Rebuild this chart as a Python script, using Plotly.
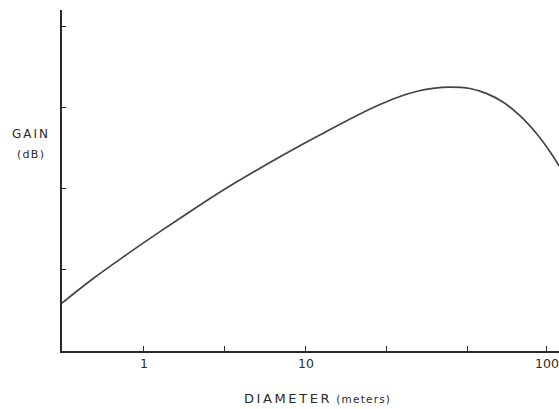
import plotly.graph_objects as go
import numpy as np

# Data (diameter in meters, gain in relative units)
diameter_m = [0.312, 0.484, 0.785, 1.256, 2.005, 3.076, 4.989, 7.96, 12.74, 20.65,
              28.64, 38.0, 50.1, 60.8, 77.4, 102.8, 130.9, 164.4, 209.4, 266.7,
              320.6, 365.0]
gain_rel = [0.59, 0.89, 1.19, 1.47, 1.74, 1.98, 2.23, 2.46, 2.68, 2.90,
            3.035, 3.135, 3.205, 3.235, 3.25, 3.233, 3.170, 3.066, 2.898, 2.672,
            2.456, 2.28]

x_tickvals = [1, 3.162, 10, 31.62, 100, 307.6]
x_ticktext = ["1", "", "10", "", "", "100"]
y_tickvals = [1, 2, 3, 4]

ink = "#2a2a2a"
font_family = "DejaVu Sans, Liberation Sans, sans-serif"

fig = go.Figure()
fig.add_trace(go.Scatter(
    x=diameter_m, y=gain_rel, mode="lines",
    line=dict(color="#444444", width=1.7, shape="spline", smoothing=1.1),
    hoverinfo="skip", showlegend=False,
))

fig.update_layout(
    width=559, height=409,
    margin=dict(l=62, r=0, t=10, b=58),
    paper_bgcolor="white", plot_bgcolor="white",
    font=dict(family=font_family, color=ink, size=12),
    xaxis=dict(
        type="log", range=[np.log10(0.312), np.log10(365)],
        showgrid=False, zeroline=False,
        showline=True, linecolor=ink, linewidth=1.5,
        ticks="inside", ticklen=5, tickwidth=1.2, tickcolor=ink,
        tickvals=x_tickvals, ticktext=x_ticktext,
        tickfont=dict(size=12.5, color=ink, family=font_family),
    ),
    yaxis=dict(
        range=[0, 4.2],
        showgrid=False, zeroline=False,
        showline=True, linecolor=ink, linewidth=1.5,
        ticks="inside", ticklen=4, tickwidth=1.2, tickcolor=ink,
        tickvals=y_tickvals, showticklabels=False,
    ),
    annotations=[
        dict(text="<span style='letter-spacing:2.6px'>DIAMETER</span> "
                  "<span style='font-size:10.5px;letter-spacing:1.2px'>(meters)</span>",
             xref="paper", yref="paper", x=0.515, y=-0.14,
             xanchor="center", yanchor="middle", showarrow=False,
             font=dict(size=13, color=ink, family=font_family)),
        dict(text="<span style='letter-spacing:2px'>GAIN</span>",
             xref="paper", yref="paper", x=-0.062, y=0.635,
             xanchor="center", yanchor="middle", showarrow=False,
             font=dict(size=12, color=ink, family=font_family)),
        dict(text="<span style='letter-spacing:1.3px'>(dB)</span>",
             xref="paper", yref="paper", x=-0.062, y=0.575,
             xanchor="center", yanchor="middle", showarrow=False,
             font=dict(size=11, color=ink, family=font_family)),
    ],
)

fig.write_html(
    "out.html",
    config={"displayModeBar": False},
    post_script="document.body.style.margin='0';document.body.style.padding='0';document.body.style.overflow='hidden';",
)
